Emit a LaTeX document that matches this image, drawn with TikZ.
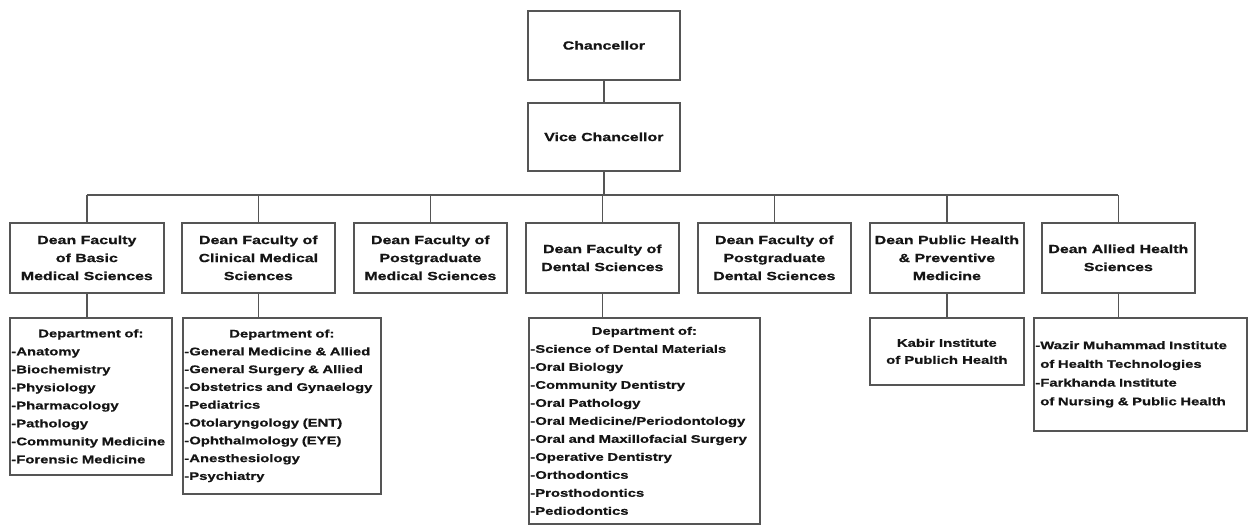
\documentclass[tikz,border=0pt]{standalone}
\usepackage{fontspec}
\setmainfont{Liberation Sans}[FakeStretch=1.35, BoldFeatures={FakeBold=0.8}]
\definecolor{linegray}{HTML}{555555}
\definecolor{txt}{HTML}{151515}
\tikzset{
  box/.style={draw=linegray, line width=1.7pt, fill=white, text=txt, inner xsep=1.5pt, inner ysep=1pt,
    font=\bfseries\fontsize{11.8}{18}\selectfont, align=center, anchor=north west},
  list/.style={box, font=\bfseries\fontsize{11}{18}\selectfont, align=left},
  link/.style={draw=linegray, line width=1.7pt},
}
\newcommand{\hdr}[1]{\hfill #1\hfill\null}
\begin{document}
\begin{tikzpicture}[x=1pt,y=-1pt]
\fill[white] (0,0) rectangle (1249,525);
\useasboundingbox (0,0) rectangle (1249,525);
% top
\node[box, minimum width=152pt, minimum height=69pt] (ch) at (527,10) {Chancellor};
\node[box, minimum width=152pt, minimum height=68pt] (vc) at (527,102) {Vice Chancellor};
% deans
\node[box, minimum width=154pt, minimum height=70pt] (d1) at (9,222) {Dean Faculty\\of Basic\\Medical Sciences};
\node[box, minimum width=153pt, minimum height=70pt] (d2) at (181,222) {Dean Faculty of\\Clinical Medical\\Sciences};
\node[box, minimum width=153pt, minimum height=70pt] (d3) at (353,222) {Dean Faculty of\\Postgraduate\\Medical Sciences};
\node[box, minimum width=153pt, minimum height=70pt] (d4) at (525,222) {Dean Faculty of\\Dental Sciences};
\node[box, minimum width=153pt, minimum height=70pt] (d5) at (697,222) {Dean Faculty of\\Postgraduate\\Dental Sciences};
\node[box, minimum width=154pt, minimum height=70pt] (d6) at (869,222) {Dean Public Health\\\& Preventive\\Medicine};
\node[box, minimum width=153pt, minimum height=70pt] (d7) at (1041,222) {Dean Allied Health\\Sciences};
% departments
\node[list, text width=159pt, minimum height=157pt] (p1) at (9,317)
  {\hdr{Department of:}\\-Anatomy\\-Biochemistry\\-Physiology\\-Pharmacology\\-Pathology\\-Community Medicine\\-Forensic Medicine};
\node[list, text width=195pt, minimum height=176pt, font=\bfseries\fontsize{11}{17.8}\selectfont] (p2) at (182,317)
  {\hdr{Department of:}\\-General Medicine \& Allied\\-General Surgery \& Allied\\-Obstetrics and Gynaelogy\\-Pediatrics\\-Otolaryngology (ENT)\\-Ophthalmology (EYE)\\-Anesthesiology\\-Psychiatry};
\node[list, text width=228pt, minimum height=206pt] (p4) at (528,317)
  {\hdr{Department of:}\\-Science of Dental Materials\\-Oral Biology\\-Community Dentistry\\-Oral Pathology\\-Oral Medicine/Periodontology\\-Oral and Maxillofacial Surgery\\-Operative Dentistry\\-Orthodontics\\-Prosthodontics\\-Pediodontics};
\node[box, font=\bfseries\fontsize{11}{17}\selectfont, minimum width=154pt, minimum height=67pt] (p6) at (869,317)
  {Kabir Institute\\of Publich Health};
\node[list, text width=210pt, minimum height=113pt, font=\bfseries\fontsize{11}{18.7}\selectfont] (p7) at (1033,317)
  {-Wazir Muhammad Institute\\\phantom{-}of Health Technologies\\-Farkhanda Institute\\\phantom{-}of Nursing \& Public Health};
% connectors
\coordinate (bus) at (0,195);
\draw[link] (ch.south) -- (vc.north);
\draw[link] (vc.south) -- (vc.south |- bus);
\draw[link] (d1.north |- bus) -- (d7.north |- bus);
\foreach \i in {1,...,7} {\draw[link] (d\i.north) -- (d\i.north |- bus);}
\draw[link] (d1.south) -- (d1.south |- p1.north);
\draw[link] (d2.south) -- (d2.south |- p2.north);
\draw[link] (d4.south) -- (d4.south |- p4.north);
\draw[link] (d6.south) -- (d6.south |- p6.north);
\draw[link] (d7.south) -- (d7.south |- p7.north);
\end{tikzpicture}
\end{document}
